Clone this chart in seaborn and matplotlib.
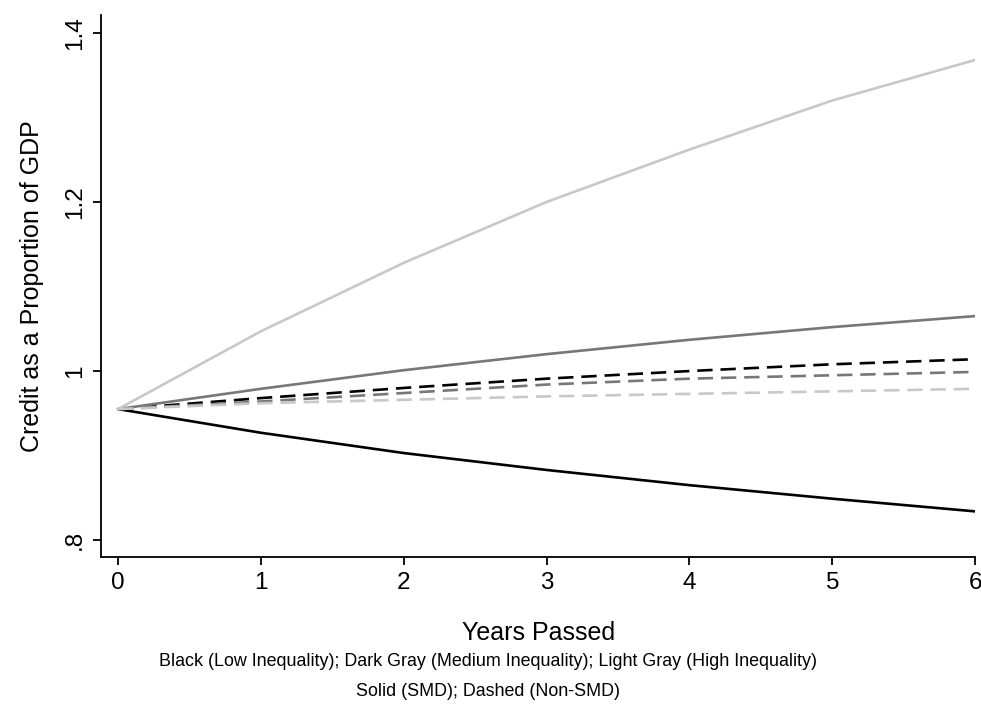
import matplotlib
matplotlib.use("Agg")
import matplotlib.pyplot as plt
import seaborn as sns
import pandas as pd

years = [0, 1, 2, 3, 4, 5, 6]
low_smd = [0.955, 0.927, 0.903, 0.883, 0.865, 0.849, 0.834]
med_smd = [0.955, 0.979, 1.001, 1.020, 1.037, 1.052, 1.065]
high_smd = [0.955, 1.047, 1.128, 1.200, 1.262, 1.320, 1.368]
low_non = [0.955, 0.968, 0.980, 0.991, 1.000, 1.008, 1.014]
med_non = [0.955, 0.964, 0.974, 0.984, 0.991, 0.995, 0.999]
high_non = [0.955, 0.962, 0.966, 0.970, 0.973, 0.976, 0.979]

ytick_vals = [0.8, 1.0, 1.2, 1.4]
ytick_labels = [".8", "1", "1.2", "1.4"]

series = [
    ("Low", "SMD", low_smd),
    ("Medium", "SMD", med_smd),
    ("High", "SMD", high_smd),
    ("Low", "Non-SMD", low_non),
    ("Medium", "Non-SMD", med_non),
    ("High", "Non-SMD", high_non),
]
rows = []
for grp, typ, vals in series:
    for x, v in zip(years, vals):
        rows.append({"year": x, "value": v, "group": grp, "type": typ})
df = pd.DataFrame(rows)

sns.set_style("white")
plt.rcParams["font.family"] = ["Liberation Sans", "DejaVu Sans"]
plt.rcParams["text.color"] = "black"
plt.rcParams["axes.labelcolor"] = "black"

fig = plt.figure(figsize=(9.81, 7.22), dpi=100)
ax = fig.add_axes([0.103, 0.2285, 0.8910, 0.7505])

palette = {"Low": "#000000", "Medium": "#777777", "High": "#c8c8c8"}
dashes = {"SMD": "", "Non-SMD": (5.8, 3.0)}
sns.lineplot(data=df, x="year", y="value", hue="group", style="type",
             palette=palette, dashes=dashes, linewidth=1.9, legend=False, ax=ax,
             hue_order=["Low", "Medium", "High"], style_order=["SMD", "Non-SMD"])

ax.set_xlim(-0.119, 6.0)
ax.set_ylim(0.78, 1.421)
ax.set_xticks(years)
ax.set_xticklabels([str(y) for y in years])
ax.set_yticks(ytick_vals)
ax.set_yticklabels(ytick_labels, rotation=90, va="center")

for s in ["top", "right"]:
    ax.spines[s].set_visible(False)
for s in ["left", "bottom"]:
    ax.spines[s].set_color("black")
    ax.spines[s].set_linewidth(1.3)
ax.tick_params(axis="both", which="major", direction="out", length=6, width=1.3,
               color="black", labelsize=17.5, labelcolor="black", pad=5, left=True, bottom=True)

ax.set_xlabel("Years Passed", fontsize=18, labelpad=19, color="black")
ax.set_ylabel("Credit as a Proportion of GDP", fontsize=18, labelpad=14, color="black")

fig.text(0.497, 0.084, "Black (Low Inequality); Dark Gray (Medium Inequality); Light Gray (High Inequality)",
         ha="center", va="center", fontsize=12.9, color="black")
fig.text(0.497, 0.042, "Solid (SMD); Dashed (Non-SMD)", ha="center", va="center", fontsize=12.9,
         color="black")

fig.savefig("out.png", dpi=100)
